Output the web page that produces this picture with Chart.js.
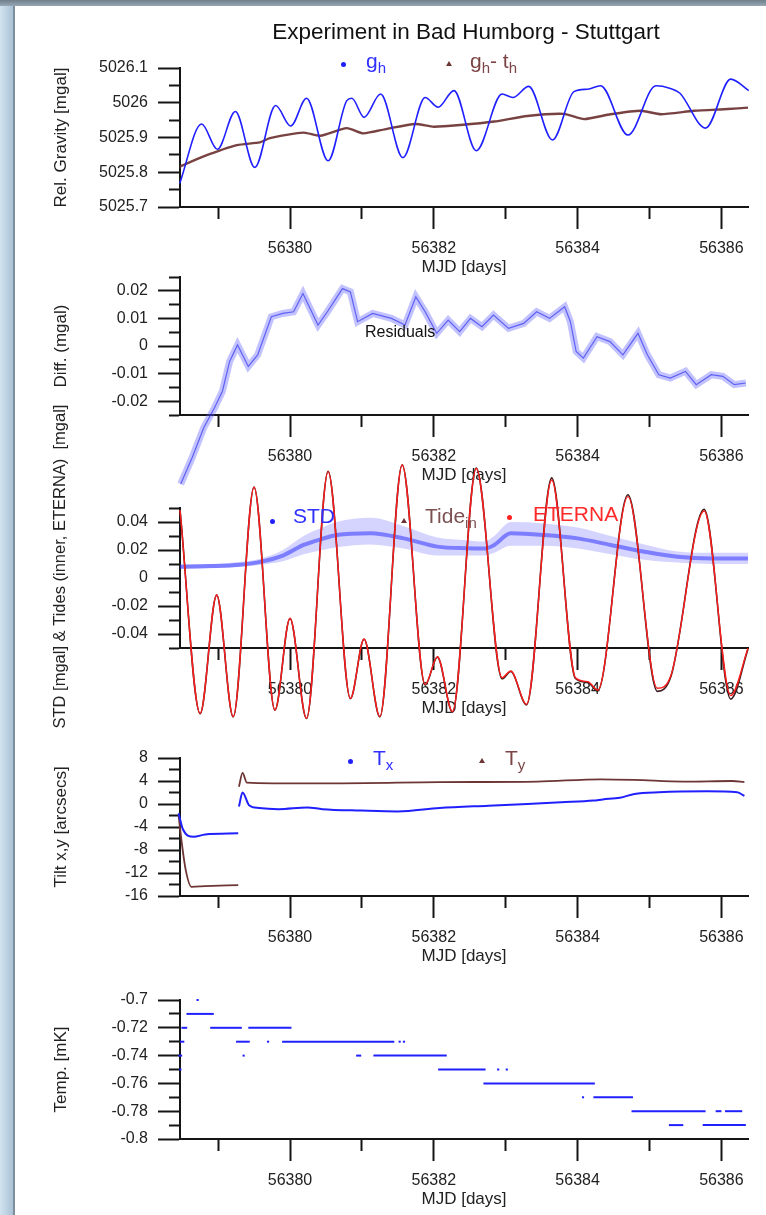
<!DOCTYPE html>
<html>
<head>
<meta charset="utf-8">
<title>Experiment in Bad Humborg - Stuttgart</title>
<script src="https://cdn.jsdelivr.net/npm/chart.js@4.4.1/dist/chart.umd.min.js"></script>
<style>
  html, body { margin: 0; padding: 0; background: #fff; overflow: hidden; }
  #page { position: relative; width: 766px; height: 1215px; overflow: hidden; background: #fff;
          font-family: "Liberation Sans", Arial, Helvetica, sans-serif; }
  #edgeL { position: absolute; left: 0; top: 0; width: 13px; height: 1215px;
           background: linear-gradient(to right, #d2e3ef, #a9c2d6); border-right: 2px solid #7d8e9c; }
  #edgeT { position: absolute; left: 0; top: 0; width: 766px; height: 6px;
           background: linear-gradient(#6f7f8c, #98a7b3); }
  canvas { position: absolute; left: 0; }
  .txt { position: absolute; white-space: nowrap; line-height: 1; }
  .lg { font-size: 21px; }
  .lg sub { font-size: 15px; vertical-align: -5px; line-height: 0; }
  .dot { position: absolute; width: 5px; height: 5px; border-radius: 50%; }
  .tri { position: absolute; width: 0; height: 0; border-left: 3px solid transparent;
         border-right: 3px solid transparent; border-bottom: 5px solid #6e3535; }
</style>
</head>
<body>
<div id="page">
  <div id="edgeL"></div>
  <div id="edgeT"></div>
  <canvas id="c1"></canvas>
  <canvas id="c2"></canvas>
  <canvas id="c3"></canvas>
  <canvas id="c4"></canvas>
  <canvas id="c5"></canvas>

  <div class="txt" style="left:216px;width:500px;text-align:center;top:21px;font-size:22.5px;color:#111;">Experiment in Bad Humborg - Stuttgart</div>

  <div class="dot" style="left:341px;top:62px;background:#2020ff;"></div>
  <div class="txt lg" style="left:366px;top:50px;color:#3030ff;">g<sub>h</sub></div>
  <div class="tri" style="left:446px;top:61px;"></div>
  <div class="txt lg" style="left:470px;top:50px;color:#7b4545;">g<sub>h</sub>- t<sub>h</sub></div>

  <div class="txt" style="left:365px;top:324px;font-size:16px;color:#111;">Residuals</div>

  <div class="dot" style="left:270px;top:519px;background:#2020ff;"></div>
  <div class="txt lg" style="left:293px;top:505px;color:#2f2fff;">STD</div>
  <div class="tri" style="left:401px;top:518px;"></div>
  <div class="txt lg" style="left:425px;top:505px;color:#7b5050;">Tide<sub>in</sub></div>
  <div class="dot" style="left:507px;top:515px;background:#ff2020;"></div>
  <div class="txt lg" style="left:533px;top:503px;color:#ff2a2a;">ETERNA</div>

  <div class="dot" style="left:348px;top:759px;background:#2020ff;"></div>
  <div class="txt lg" style="left:373px;top:747px;color:#2f2fff;">T<sub>x</sub></div>
  <div class="tri" style="left:479px;top:758px;"></div>
  <div class="txt lg" style="left:505px;top:747px;color:#7b4545;">T<sub>y</sub></div>
</div>
<script>
var X_MIN = 56378.47, X_MAX = 56386.37;

// panel 1: relative gravity
var ghDays = [56378.466, 56378.77, 56378.99, 56379.24, 56379.51, 56379.80, 56380.01, 56380.23, 56380.53, 56380.79, 56380.86, 56381.03, 56381.26, 56381.57, 56381.88, 56382.06, 56382.28, 56382.59, 56382.95, 56383.10, 56383.32, 56383.65, 56383.95, 56384.14, 56384.32, 56384.70, 56385.09, 56385.28, 56385.42, 56385.78, 56386.13, 56386.38];
var ghValues = [5025.768, 5025.939, 5025.866, 5025.975, 5025.814, 5025.992, 5025.933, 5026.013, 5025.833, 5026.006, 5026.013, 5025.958, 5026.025, 5025.842, 5026.015, 5025.987, 5026.035, 5025.862, 5026.025, 5026.015, 5026.047, 5025.893, 5026.032, 5026.039, 5026.049, 5025.907, 5026.049, 5026.042, 5026.028, 5025.927, 5026.068, 5026.035];
var ghtDays = [56378.466, 56378.79, 56379.26, 56379.58, 56379.72, 56380.19, 56380.42, 56380.79, 56381.02, 56381.35, 56381.74, 56382.00, 56382.37, 56382.84, 56383.30, 56383.81, 56384.09, 56384.46, 56384.88, 56385.16, 56385.62, 56386.09, 56386.37];
var ghtValues = [5025.816, 5025.845, 5025.878, 5025.886, 5025.898, 5025.914, 5025.905, 5025.927, 5025.912, 5025.925, 5025.939, 5025.931, 5025.936, 5025.946, 5025.962, 5025.968, 5025.953, 5025.967, 5025.977, 5025.967, 5025.977, 5025.982, 5025.986];

// panel 2: residuals
var resDays = [56378.48, 56378.64, 56378.80, 56378.95, 56379.06, 56379.16, 56379.27, 56379.42, 56379.55, 56379.74, 56379.90, 56380.05, 56380.18, 56380.39, 56380.52, 56380.73, 56380.84, 56380.94, 56381.15, 56381.41, 56381.60, 56381.75, 56381.88, 56382.04, 56382.20, 56382.36, 56382.51, 56382.67, 56382.83, 56383.04, 56383.25, 56383.43, 56383.61, 56383.82, 56383.90, 56383.98, 56384.08, 56384.27, 56384.45, 56384.63, 56384.84, 56384.97, 56385.13, 56385.29, 56385.50, 56385.65, 56385.86, 56386.02, 56386.18, 56386.34];
var resValues = [-0.050, -0.0404, -0.0296, -0.0224, -0.0164, -0.0056, 0.0004, -0.0074, -0.0032, 0.0106, 0.0118, 0.0124, 0.019, 0.0076, 0.0124, 0.0208, 0.0196, 0.0088, 0.0118, 0.010, 0.0076, 0.0178, 0.0124, 0.0046, 0.0094, 0.0052, 0.010, 0.007, 0.0112, 0.0064, 0.0082, 0.0124, 0.010, 0.0142, 0.0088, -0.002, -0.0044, 0.0034, 0.0016, -0.0032, 0.0046, -0.0032, -0.0104, -0.0116, -0.0092, -0.014, -0.0104, -0.011, -0.014, -0.0134];

// panel 3: STD band and tides
var stdDays = [56378.47, 56378.9, 56379.3, 56379.6, 56379.9, 56380.19, 56380.45, 56380.65, 56381.12, 56381.58, 56382.05, 56382.46, 56382.70, 56382.84, 56383.07, 56383.53, 56384.00, 56384.46, 56384.93, 56385.39, 56385.86, 56386.37];
var stdMid = [0.0081, 0.0085, 0.0095, 0.0117, 0.016, 0.0236, 0.028, 0.0307, 0.032, 0.0283, 0.0224, 0.0212, 0.021, 0.0236, 0.0319, 0.0307, 0.0283, 0.0236, 0.0188, 0.0152, 0.014, 0.014];
var stdLow = [0.0065, 0.007, 0.0078, 0.0095, 0.012, 0.017, 0.020, 0.022, 0.024, 0.021, 0.016, 0.016, 0.016, 0.018, 0.023, 0.023, 0.021, 0.017, 0.013, 0.011, 0.010, 0.010];
var stdHigh = [0.0097, 0.010, 0.0115, 0.014, 0.020, 0.030, 0.036, 0.040, 0.043, 0.037, 0.029, 0.027, 0.026, 0.030, 0.040, 0.039, 0.036, 0.030, 0.024, 0.019, 0.018, 0.018];
var tideDays = [56378.47, 56378.75, 56378.98, 56379.21, 56379.50, 56379.79, 56380.00, 56380.23, 56380.53, 56380.84, 56381.03, 56381.25, 56381.56, 56381.88, 56382.05, 56382.26, 56382.59, 56382.95, 56383.07, 56383.29, 56383.64, 56383.97, 56384.14, 56384.28, 56384.70, 56385.11, 56385.30, 56385.76, 56386.13, 56386.37];
var eternaValues = [0.0486, -0.0967, -0.0121, -0.099, 0.0648, -0.0943, -0.0288, -0.1002, 0.076, -0.086, -0.0436, -0.099, 0.0807, -0.076, -0.0562, -0.0955, 0.0783, -0.0712, -0.0664, -0.0902, 0.070, -0.0712, -0.074, -0.080, 0.0581, -0.0788, -0.0693, 0.0479, -0.084, -0.0502];
var tideInValues = [0.0488, -0.0969, -0.0122, -0.0992, 0.0650, -0.0945, -0.0289, -0.1004, 0.0762, -0.0862, -0.0437, -0.0992, 0.0809, -0.0765, -0.0565, -0.0958, 0.0786, -0.0720, -0.0668, -0.0906, 0.0715, -0.0718, -0.0746, -0.0806, 0.0595, -0.0810, -0.0700, 0.0490, -0.0865, -0.0508];

// panel 4: tilts (two recording blocks)
var tx1Days = [56378.45, 56378.51, 56378.66, 56378.82, 56379.28];
var tx1Values = [-1.6, -4.4, -5.7, -5.3, -5.1];
var tx2Days = [56379.29, 56379.34, 56379.43, 56379.57, 56379.84, 56380.24, 56380.45, 56380.99, 56381.50, 56382.08, 56382.76, 56383.30, 56383.77, 56384.22, 56384.35, 56384.59, 56384.79, 56385.13, 56385.80, 56386.22, 56386.32];
var tx2Values = [-0.45, 2.0, -0.2, -0.7, -0.9, -0.6, -0.9, -1.15, -1.3, -0.7, -0.3, 0.0, 0.3, 0.6, 0.8, 1.1, 1.75, 2.05, 2.2, 2.05, 1.4];
var ty1Days = [56378.45, 56378.49, 56378.55, 56378.63, 56378.82, 56379.28];
var ty1Values = [-1.9, -6.3, -11.5, -14.4, -14.3, -14.1];
var ty2Days = [56379.29, 56379.34, 56379.40, 56379.77, 56380.72, 56382.08, 56383.44, 56384.32, 56384.79, 56385.47, 56386.15, 56386.32];
var ty2Values = [3.0, 5.4, 3.7, 3.6, 3.6, 3.8, 3.9, 4.3, 4.2, 3.9, 4.0, 3.8];

// panel 5: temperature, quantised runs
var tempStart = [56378.70, 56378.56, 56378.49, 56378.89, 56379.42, 56378.47, 56379.25, 56379.68, 56379.89, 56381.51, 56381.57, 56378.45, 56379.34, 56380.92, 56381.16, 56378.46, 56382.06, 56382.88, 56383.00, 56382.69, 56384.06, 56384.22, 56384.75, 56385.92, 56386.05, 56385.27, 56385.74];
var tempEnd = [56378.73, 56378.94, 56378.57, 56379.33, 56380.02, 56378.53, 56379.44, 56379.71, 56381.45, 56381.54, 56381.60, 56378.50, 56379.37, 56380.99, 56382.18, 56378.49, 56382.72, 56382.91, 56383.03, 56384.24, 56384.09, 56384.77, 56385.78, 56386.00, 56386.29, 56385.47, 56386.34];
var tempValue = [-0.70, -0.71, -0.72, -0.72, -0.72, -0.73, -0.73, -0.73, -0.73, -0.73, -0.73, -0.74, -0.74, -0.74, -0.74, -0.75, -0.75, -0.75, -0.75, -0.76, -0.77, -0.77, -0.78, -0.78, -0.78, -0.79, -0.79];

var AXIS = "#151515", TXT = "#222", FONT = '"Liberation Sans", Arial, sans-serif';
var BLUE = "#2020ff", BROWN = "#6e3535", RED = "#ff1c1c", TIDEIN = "#3b1d1d";

function pts(xs, ys) { return xs.map(function (x, i) { return { x: x, y: ys[i] }; }); }
function onStep(v, step) { var r = v / step; return Math.abs(r - Math.round(r)) < 1e-6; }
function fmt(v) { var s = parseFloat(v.toFixed(4)); if (s === 0) s = 0; return String(s); }

function xAxis() {
  return {
    type: "linear", position: "bottom", min: X_MIN, max: X_MAX,
    afterFit: function (s) { s.height = 71; },
    border: { display: true, color: AXIS, width: 2 },
    grid: {
      drawOnChartArea: false, tickLength: 22, tickColor: AXIS, tickWidth: 2,
      tickBorderDash: function (c) { return (c.tick && !onStep(c.tick.value, 2)) ? [11, 100] : []; }
    },
    ticks: {
      stepSize: 1, autoSkip: false, includeBounds: false, maxRotation: 0, padding: 10,
      color: TXT, font: { size: 16, family: FONT },
      callback: function (v) { return onStep(v, 2) ? String(Math.round(v)) : ""; }
    },
    title: { display: true, text: "MJD [days]", color: TXT, font: { size: 17, family: FONT }, padding: { top: 0, bottom: 0 } }
  };
}

function yAxis(min, max, step, major, title, titleSize) {
  return {
    type: "linear", position: "left", min: min, max: max,
    afterFit: function (s) { s.width = 180; },
    border: { display: true, color: AXIS, width: 2 },
    grid: {
      drawOnChartArea: false, tickLength: 22, tickColor: AXIS, tickWidth: 2,
      tickBorderDash: function (c) { return (c.tick && !onStep(c.tick.value, major)) ? [0, 11, 11, 100] : []; }
    },
    ticks: {
      stepSize: step, autoSkip: false, padding: 10, color: TXT, font: { size: 16, family: FONT },
      callback: function (v) { return onStep(v, major) ? fmt(v) : ""; }
    },
    title: { display: true, text: title, color: TXT, font: { size: titleSize || 17, family: FONT }, padding: { top: 51, bottom: 0 } }
  };
}

function line(data, color, width, extra) {
  var d = { data: data, borderColor: color, backgroundColor: color, borderWidth: width, pointRadius: 0,
            fill: false, clip: false, spanGaps: false, cubicInterpolationMode: "monotone", capBezierPoints: false };
  for (var k in extra) d[k] = extra[k];
  return d;
}

function makeChart(id, top, height, padTop, padBottom, yOpts, datasets) {
  var cv = document.getElementById(id);
  cv.width = 790; cv.height = height;
  cv.style.top = top + "px"; cv.style.width = "790px"; cv.style.height = height + "px";
  return new Chart(cv, {
    type: "line",
    data: { datasets: datasets },
    options: {
      responsive: false, animation: false, devicePixelRatio: 1,
      layout: { padding: { top: padTop, right: 42, bottom: padBottom, left: 0 } },
      plugins: { legend: { display: false }, tooltip: { enabled: false } },
      scales: { x: xAxis(), y: yOpts }
    }
  });
}

// lower "order" is drawn on top
makeChart("c1", 40, 246, 28, 8, yAxis(5025.7, 5026.1, 0.05, 0.1, "Rel. Gravity [mgal]"), [
  line(pts(ghtDays, ghtValues), "rgba(105,45,45,0.9)", 2.4, { cubicInterpolationMode: "default", tension: 0.2, order: 2 }),
  line(pts(ghDays, ghValues), BLUE, 1.6, { order: 1 })
]);

makeChart("c2", 250, 244, 27, 8, yAxis(-0.025, 0.025, 0.005, 0.01, "Diff. (mgal)"), [
  line(pts(resDays, resValues), "rgba(95,95,255,0.38)", 7, { cubicInterpolationMode: "default", tension: 0, order: 2 }),
  line(pts(resDays, resValues), "rgba(30,30,235,0.6)", 1.2, { cubicInterpolationMode: "default", tension: 0, order: 1 })
]);

// leading spaces nudge the long rotated title upwards like the original
makeChart("c3", 390, 352, 118, 23, yAxis(-0.05, 0.05, 0.01, 0.02, "     STD [mgal] & Tides (inner, ETERNA)  [mgal]", 16.5), [
  line(pts(stdDays, stdLow), "rgba(0,0,0,0)", 0, { clip: true, order: 5 }),
  line(pts(stdDays, stdHigh), "rgba(0,0,0,0)", 0, { clip: true, fill: "-1", backgroundColor: "rgba(60,60,255,0.22)", order: 4 }),
  line(pts(stdDays, stdMid), "rgba(40,40,255,0.5)", 4, { order: 3 }),
  line(pts(tideDays, tideInValues), TIDEIN, 1.6, { order: 2 }),
  line(pts(tideDays, eternaValues), RED, 1.4, { order: 1 })
]);

makeChart("c4", 735, 240, 23, 8, yAxis(-16, 8, 2, 4, "Tilt x,y [arcsecs]"), [
  line(pts(ty1Days, ty1Values).concat([{ x: 56379.285, y: null }], pts(ty2Days, ty2Values)), BROWN, 1.8, { order: 2 }),
  line(pts(tx1Days, tx1Values).concat([{ x: 56379.285, y: null }], pts(tx2Days, tx2Values)), BLUE, 2, { order: 1 })
]);

var tempSets = tempStart.map(function (s, i) {
  return line([{ x: s, y: tempValue[i] }, { x: tempEnd[i], y: tempValue[i] }], BLUE, 2, { cubicInterpolationMode: "default" });
});
makeChart("c5", 975, 243, 25, 8, yAxis(-0.8, -0.7, 0.01, 0.02, "Temp. [mK]"), tempSets);
</script>
</body>
</html>
